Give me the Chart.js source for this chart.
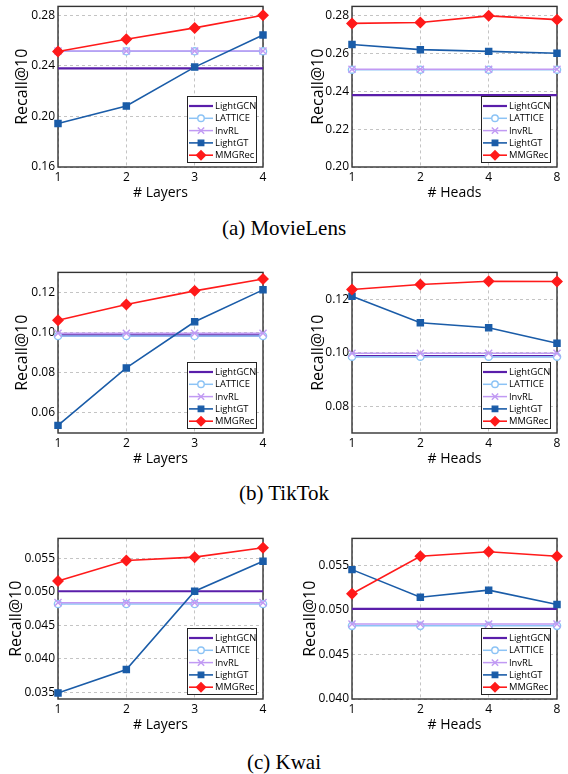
<!DOCTYPE html>
<html>
<head>
<meta charset="utf-8">
<script src="https://cdn.jsdelivr.net/npm/chart.js@4"></script>
<style>
  body { margin: 0; background: #fff; }
  #page { position: relative; width: 568px; height: 774px; }
  .panel { position: absolute; }
  .cap { position: absolute; left: 0; width: 568px; text-align: center;
         font-family: "Liberation Serif", serif; font-size: 21px; line-height: 24px; color: #000; }
</style>
</head>
<body>
<div id="page">
  <div class="panel" style="left:0;top:0"><canvas id="c1" width="284" height="205"></canvas></div>
  <div class="panel" style="left:284px;top:0"><canvas id="c2" width="284" height="205"></canvas></div>
  <div class="cap" style="top:216px">(a) MovieLens</div>
  <div class="panel" style="left:0;top:266px"><canvas id="c3" width="284" height="205"></canvas></div>
  <div class="panel" style="left:284px;top:266px"><canvas id="c4" width="284" height="205"></canvas></div>
  <div class="cap" style="top:481px">(b) TikTok</div>
  <div class="panel" style="left:0;top:532px"><canvas id="c5" width="284" height="205"></canvas></div>
  <div class="panel" style="left:284px;top:532px"><canvas id="c6" width="284" height="205"></canvas></div>
  <div class="cap" style="top:750px">(c) Kwai</div>
</div>
<script>
// categories
const layerLabels = ['1', '2', '3', '4'];
const headLabels = ['1', '2', '4', '8'];
const methods = ['LightGCN', 'LATTICE', 'InvRL', 'LightGT', 'MMGRec'];

// MovieLens - # Layers
const mlLayerLightGCN = [0.238, 0.238, 0.238, 0.238];
const mlLayerLATTICE = [0.2515, 0.2515, 0.2515, 0.2515];
const mlLayerInvRL = [0.2517, 0.2517, 0.2517, 0.2517];
const mlLayerLightGT = [0.1944, 0.2082, 0.2390, 0.2644];
const mlLayerMMGRec = [0.2513, 0.2610, 0.2700, 0.2800];
const mlLayerTicks = [0.16, 0.20, 0.24, 0.28];

// MovieLens - # Heads
const mlHeadLightGCN = [0.238, 0.238, 0.238, 0.238];
const mlHeadLATTICE = [0.2515, 0.2515, 0.2515, 0.2515];
const mlHeadInvRL = [0.2517, 0.2517, 0.2517, 0.2517];
const mlHeadLightGT = [0.2648, 0.2621, 0.2612, 0.2602];
const mlHeadMMGRec = [0.2760, 0.2765, 0.2800, 0.2780];
const mlHeadTicks = [0.20, 0.22, 0.24, 0.26, 0.28];

// TikTok - # Layers
const ttLayerLightGCN = [0.0986, 0.0986, 0.0986, 0.0986];
const ttLayerLATTICE = [0.0983, 0.0983, 0.0983, 0.0983];
const ttLayerInvRL = [0.0997, 0.0997, 0.0997, 0.0997];
const ttLayerLightGT = [0.0538, 0.0824, 0.1054, 0.1213];
const ttLayerMMGRec = [0.1062, 0.1140, 0.1208, 0.1267];
const ttLayerTicks = [0.06, 0.08, 0.10, 0.12];

// TikTok - # Heads
const ttHeadLightGCN = [0.0987, 0.0987, 0.0987, 0.0987];
const ttHeadLATTICE = [0.0985, 0.0985, 0.0985, 0.0985];
const ttHeadInvRL = [0.0998, 0.0998, 0.0998, 0.0998];
const ttHeadLightGT = [0.1211, 0.1112, 0.1093, 0.1035];
const ttHeadMMGRec = [0.1236, 0.1255, 0.1267, 0.1266];
const ttHeadTicks = [0.08, 0.10, 0.12];

// Kwai - # Layers
const kwLayerLightGCN = [0.0501, 0.0501, 0.0501, 0.0501];
const kwLayerLATTICE = [0.0482, 0.0482, 0.0482, 0.0482];
const kwLayerInvRL = [0.0484, 0.0484, 0.0484, 0.0484];
const kwLayerLightGT = [0.0349, 0.0384, 0.0501, 0.0546];
const kwLayerMMGRec = [0.05165, 0.0547, 0.0552, 0.0566];
const kwLayerTicks = [0.035, 0.040, 0.045, 0.050, 0.055];

// Kwai - # Heads
const kwHeadLightGCN = [0.0501, 0.0501, 0.0501, 0.0501];
const kwHeadLATTICE = [0.0482, 0.0482, 0.0482, 0.0482];
const kwHeadInvRL = [0.0484, 0.0484, 0.0484, 0.0484];
const kwHeadLightGT = [0.0545, 0.0514, 0.0522, 0.0506];
const kwHeadMMGRec = [0.0518, 0.0560, 0.0565, 0.0560];
const kwHeadTicks = [0.040, 0.045, 0.050, 0.055];

// look of each method, same order as methods
const looks = [
  { color: '#5a1eaa', width: 2.2, point: false, radius: 0, fill: '#5a1eaa', order: 4 },
  { color: '#8cc3f5', width: 1.5, point: 'circle', radius: 3.6, fill: '#ffffff', order: 3 },
  { color: '#c19af3', width: 1.5, point: 'crossRot', radius: 5, fill: '#c19af3', order: 2 },
  { color: '#1a5ca8', width: 1.6, point: 'rect', radius: 4.3, fill: '#1a5ca8', order: 1 },
  { color: '#ff1a1a', width: 1.6, point: 'rectRot', radius: 5, fill: '#ff1a1a', order: 0 }
];

const FONT = 'Open Sans';

function drawMarker(ctx, style, x, y, r, fill, stroke, lw) {
  ctx.save();
  ctx.fillStyle = fill; ctx.strokeStyle = stroke; ctx.lineWidth = lw;
  ctx.beginPath();
  if (style === 'circle') {
    ctx.arc(x, y, r, 0, Math.PI * 2);
    ctx.fill(); ctx.stroke();
  } else if (style === 'rect') {
    const s = r * Math.SQRT1_2;
    ctx.rect(x - s, y - s, 2 * s, 2 * s);
    ctx.fill(); ctx.stroke();
  } else if (style === 'rectRot') {
    ctx.moveTo(x, y - r); ctx.lineTo(x + r, y); ctx.lineTo(x, y + r); ctx.lineTo(x - r, y);
    ctx.closePath(); ctx.fill(); ctx.stroke();
  } else if (style === 'crossRot') {
    const s = r * Math.SQRT1_2;
    ctx.moveTo(x - s, y - s); ctx.lineTo(x + s, y + s);
    ctx.moveTo(x + s, y - s); ctx.lineTo(x - s, y + s);
    ctx.stroke();
  }
  ctx.restore();
}

// box around the plot area
const framePlugin = {
  id: 'frame',
  beforeDatasetsDraw(chart) {
    const a = chart.chartArea, ctx = chart.ctx;
    ctx.save();
    ctx.strokeStyle = '#333';
    ctx.lineWidth = 1.4;
    ctx.strokeRect(a.left, a.top, a.right - a.left, a.bottom - a.top);
    ctx.restore();
  }
};

// legend inside the lower right corner
const insideLegend = {
  id: 'insideLegend',
  afterDatasetsDraw(chart) {
    const a = chart.chartArea, ctx = chart.ctx;
    const w = 69, h = 66;
    const x0 = Math.round(a.right - 7 - w), y0 = Math.round(a.bottom - 5 - h);
    ctx.save();
    ctx.fillStyle = '#fff';
    ctx.fillRect(x0, y0, w, h);
    ctx.strokeStyle = '#222';
    ctx.lineWidth = 1;
    ctx.strokeRect(x0 + 0.5, y0 + 0.5, w, h);
    ctx.font = '9.4px "' + FONT + '"';
    ctx.textBaseline = 'middle';
    chart.data.datasets.forEach((ds, i) => {
      const lk = looks[i];
      const y = y0 + 10 + i * 12.3;
      ctx.strokeStyle = lk.color;
      ctx.lineWidth = lk.width;
      ctx.beginPath(); ctx.moveTo(x0 + 2, y); ctx.lineTo(x0 + 26, y); ctx.stroke();
      if (lk.point) drawMarker(ctx, lk.point, x0 + 14, y, lk.radius * 0.9, lk.fill, lk.color, 1.4);
      ctx.fillStyle = '#000';
      ctx.fillText(ds.label, x0 + 28, y + 0.5);
    });
    ctx.restore();
  }
};

function makePanel(id, labels, series, yMin, yMax, yTicks, dec, xTitle, yTitlePad, leftW, rightPad) {
  new Chart(document.getElementById(id), {
    type: 'line',
    data: {
      labels: labels,
      datasets: series.map((vals, i) => ({
        label: methods[i],
        data: vals,
        order: looks[i].order,
        borderColor: looks[i].color,
        backgroundColor: looks[i].fill,
        borderWidth: looks[i].width,
        pointStyle: looks[i].point || 'circle',
        pointRadius: looks[i].radius,
        pointBackgroundColor: looks[i].fill,
        pointBorderColor: looks[i].color,
        pointBorderWidth: 1.4,
        pointHoverRadius: looks[i].radius,
        tension: 0,
        clip: false
      }))
    },
    options: {
      responsive: false,
      animation: false,
      events: [],
      layout: { padding: { left: 0, right: rightPad, top: 3, bottom: 0 } },
      plugins: { legend: { display: false }, tooltip: { enabled: false } },
      scales: {
        x: {
          type: 'category',
          offset: false,
          grid: { color: '#c4c4c4', lineWidth: 1, drawTicks: false },
          border: { display: false, dash: [3, 3] },
          ticks: { padding: 3, color: '#000', maxRotation: 0, font: { family: FONT, size: 12 } },
          title: { display: true, text: xTitle, color: '#000', font: { family: FONT, size: 14 }, padding: { top: 0, bottom: 4 } },
          afterFit: s => { s.height = 38; s.paddingLeft = 0; s.paddingRight = 0; }
        },
        y: {
          type: 'linear',
          min: yMin,
          max: yMax,
          afterBuildTicks: s => { s.ticks = yTicks.map(v => ({ value: v })); },
          grid: { color: '#c4c4c4', lineWidth: 1, drawTicks: false },
          border: { display: false, dash: [3, 3] },
          ticks: { padding: 3, color: '#000', font: { family: FONT, size: 12 }, callback: v => Number(v).toFixed(dec) },
          title: { display: true, text: 'Recall@10', color: '#000', font: { family: FONT, size: 16 }, padding: { top: yTitlePad, bottom: 0 } },
          afterFit: s => { s.width = leftW; s.paddingTop = 0; s.paddingBottom = 0; }
        }
      }
    },
    plugins: [framePlugin, insideLegend]
  });
}

makePanel('c1', layerLabels, [mlLayerLightGCN, mlLayerLATTICE, mlLayerInvRL, mlLayerLightGT, mlLayerMMGRec],
  0.16, 0.287, mlLayerTicks, 2, '# Layers', 13, 58, 21);
makePanel('c2', headLabels, [mlHeadLightGCN, mlHeadLATTICE, mlHeadInvRL, mlHeadLightGT, mlHeadMMGRec],
  0.20, 0.285, mlHeadTicks, 2, '# Heads', 25, 68, 11);
makePanel('c3', layerLabels, [ttLayerLightGCN, ttLayerLATTICE, ttLayerInvRL, ttLayerLightGT, ttLayerMMGRec],
  0.05, 0.13, ttLayerTicks, 2, '# Layers', 13, 58, 21);
makePanel('c4', headLabels, [ttHeadLightGCN, ttHeadLATTICE, ttHeadInvRL, ttHeadLightGT, ttHeadMMGRec],
  0.07, 0.13, ttHeadTicks, 2, '# Heads', 25, 68, 11);
makePanel('c5', layerLabels, [kwLayerLightGCN, kwLayerLATTICE, kwLayerInvRL, kwLayerLightGT, kwLayerMMGRec],
  0.034, 0.058, kwLayerTicks, 3, '# Layers', 7, 58, 21);
makePanel('c6', headLabels, [kwHeadLightGCN, kwHeadLATTICE, kwHeadInvRL, kwHeadLightGT, kwHeadMMGRec],
  0.040, 0.058, kwHeadTicks, 3, '# Heads', 17, 68, 11);
</script>
</body>
</html>
